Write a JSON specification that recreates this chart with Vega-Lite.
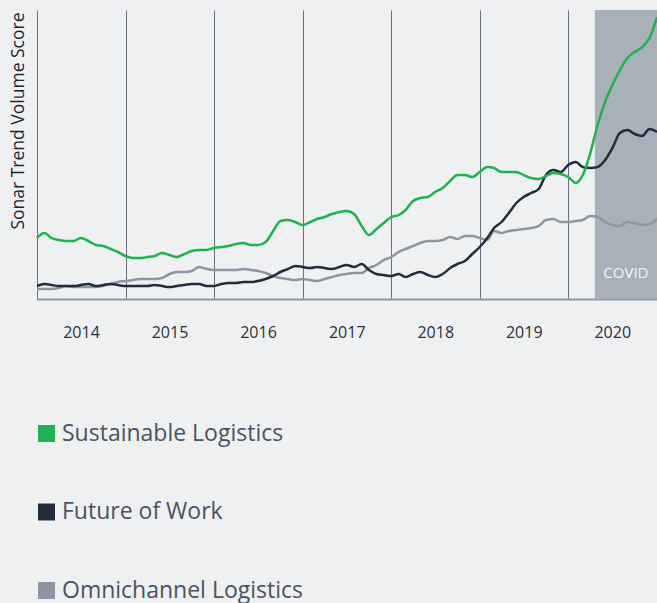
{
  "$schema": "https://vega.github.io/schema/vega-lite/v6.json",
  "autosize": {"type": "none"},
  "padding": {"left": 37, "top": 10, "right": 0, "bottom": 304},
  "width": 620,
  "height": 289,
  "background": "#eff0f2",
  "config": {"view": {"stroke": null}, "font": "Open Sans"},
  "datasets": {
    "trend": [
{"month":"2014-01","series":"Omnichannel Logistics","score":10},{"month":"2014-02","series":"Omnichannel Logistics","score":10},{"month":"2014-03","series":"Omnichannel Logistics","score":10},{"month":"2014-04","series":"Omnichannel Logistics","score":11},{"month":"2014-05","series":"Omnichannel Logistics","score":13},{"month":"2014-06","series":"Omnichannel Logistics","score":12},{"month":"2014-07","series":"Omnichannel Logistics","score":12},{"month":"2014-08","series":"Omnichannel Logistics","score":12},{"month":"2014-09","series":"Omnichannel Logistics","score":12},{"month":"2014-10","series":"Omnichannel Logistics","score":13},{"month":"2014-11","series":"Omnichannel Logistics","score":15},{"month":"2014-12","series":"Omnichannel Logistics","score":17},
{"month":"2015-01","series":"Omnichannel Logistics","score":18},{"month":"2015-02","series":"Omnichannel Logistics","score":19},{"month":"2015-03","series":"Omnichannel Logistics","score":20},{"month":"2015-04","series":"Omnichannel Logistics","score":20},{"month":"2015-05","series":"Omnichannel Logistics","score":20},{"month":"2015-06","series":"Omnichannel Logistics","score":21},{"month":"2015-07","series":"Omnichannel Logistics","score":25},{"month":"2015-08","series":"Omnichannel Logistics","score":27},{"month":"2015-09","series":"Omnichannel Logistics","score":27},{"month":"2015-10","series":"Omnichannel Logistics","score":28},{"month":"2015-11","series":"Omnichannel Logistics","score":32},{"month":"2015-12","series":"Omnichannel Logistics","score":30},
{"month":"2016-01","series":"Omnichannel Logistics","score":29},{"month":"2016-02","series":"Omnichannel Logistics","score":29},{"month":"2016-03","series":"Omnichannel Logistics","score":29},{"month":"2016-04","series":"Omnichannel Logistics","score":29},{"month":"2016-05","series":"Omnichannel Logistics","score":30},{"month":"2016-06","series":"Omnichannel Logistics","score":29},{"month":"2016-07","series":"Omnichannel Logistics","score":28},{"month":"2016-08","series":"Omnichannel Logistics","score":26},{"month":"2016-09","series":"Omnichannel Logistics","score":23},{"month":"2016-10","series":"Omnichannel Logistics","score":21},{"month":"2016-11","series":"Omnichannel Logistics","score":20},{"month":"2016-12","series":"Omnichannel Logistics","score":19},
{"month":"2017-01","series":"Omnichannel Logistics","score":20},{"month":"2017-02","series":"Omnichannel Logistics","score":19},{"month":"2017-03","series":"Omnichannel Logistics","score":18},{"month":"2017-04","series":"Omnichannel Logistics","score":20},{"month":"2017-05","series":"Omnichannel Logistics","score":22},{"month":"2017-06","series":"Omnichannel Logistics","score":24},{"month":"2017-07","series":"Omnichannel Logistics","score":25},{"month":"2017-08","series":"Omnichannel Logistics","score":26},{"month":"2017-09","series":"Omnichannel Logistics","score":26},{"month":"2017-10","series":"Omnichannel Logistics","score":31},{"month":"2017-11","series":"Omnichannel Logistics","score":34},{"month":"2017-12","series":"Omnichannel Logistics","score":39},
{"month":"2018-01","series":"Omnichannel Logistics","score":42},{"month":"2018-02","series":"Omnichannel Logistics","score":47},{"month":"2018-03","series":"Omnichannel Logistics","score":50},{"month":"2018-04","series":"Omnichannel Logistics","score":53},{"month":"2018-05","series":"Omnichannel Logistics","score":56},{"month":"2018-06","series":"Omnichannel Logistics","score":58},{"month":"2018-07","series":"Omnichannel Logistics","score":58},{"month":"2018-08","series":"Omnichannel Logistics","score":59},{"month":"2018-09","series":"Omnichannel Logistics","score":62},{"month":"2018-10","series":"Omnichannel Logistics","score":60},{"month":"2018-11","series":"Omnichannel Logistics","score":63},{"month":"2018-12","series":"Omnichannel Logistics","score":63},
{"month":"2019-01","series":"Omnichannel Logistics","score":61},{"month":"2019-02","series":"Omnichannel Logistics","score":59},{"month":"2019-03","series":"Omnichannel Logistics","score":68},{"month":"2019-04","series":"Omnichannel Logistics","score":66},{"month":"2019-05","series":"Omnichannel Logistics","score":68},{"month":"2019-06","series":"Omnichannel Logistics","score":69},{"month":"2019-07","series":"Omnichannel Logistics","score":70},{"month":"2019-08","series":"Omnichannel Logistics","score":71},{"month":"2019-09","series":"Omnichannel Logistics","score":73},{"month":"2019-10","series":"Omnichannel Logistics","score":79},{"month":"2019-11","series":"Omnichannel Logistics","score":80},{"month":"2019-12","series":"Omnichannel Logistics","score":77},
{"month":"2020-01","series":"Omnichannel Logistics","score":77},{"month":"2020-02","series":"Omnichannel Logistics","score":78},{"month":"2020-03","series":"Omnichannel Logistics","score":79},{"month":"2020-04","series":"Omnichannel Logistics","score":83},{"month":"2020-05","series":"Omnichannel Logistics","score":82},{"month":"2020-06","series":"Omnichannel Logistics","score":77},{"month":"2020-07","series":"Omnichannel Logistics","score":74},{"month":"2020-08","series":"Omnichannel Logistics","score":73},{"month":"2020-09","series":"Omnichannel Logistics","score":77},{"month":"2020-10","series":"Omnichannel Logistics","score":76},{"month":"2020-11","series":"Omnichannel Logistics","score":74},{"month":"2020-12","series":"Omnichannel Logistics","score":75},{"month":"2021-01","series":"Omnichannel Logistics","score":80},
{"month":"2014-01","series":"Future of Work","score":13},{"month":"2014-02","series":"Future of Work","score":15},{"month":"2014-03","series":"Future of Work","score":14},{"month":"2014-04","series":"Future of Work","score":13},{"month":"2014-05","series":"Future of Work","score":13},{"month":"2014-06","series":"Future of Work","score":13},{"month":"2014-07","series":"Future of Work","score":14},{"month":"2014-08","series":"Future of Work","score":15},{"month":"2014-09","series":"Future of Work","score":13},{"month":"2014-10","series":"Future of Work","score":14},{"month":"2014-11","series":"Future of Work","score":15},{"month":"2014-12","series":"Future of Work","score":14},
{"month":"2015-01","series":"Future of Work","score":13},{"month":"2015-02","series":"Future of Work","score":13},{"month":"2015-03","series":"Future of Work","score":13},{"month":"2015-04","series":"Future of Work","score":13},{"month":"2015-05","series":"Future of Work","score":14},{"month":"2015-06","series":"Future of Work","score":13},{"month":"2015-07","series":"Future of Work","score":12},{"month":"2015-08","series":"Future of Work","score":13},{"month":"2015-09","series":"Future of Work","score":14},{"month":"2015-10","series":"Future of Work","score":15},{"month":"2015-11","series":"Future of Work","score":15},{"month":"2015-12","series":"Future of Work","score":13},
{"month":"2016-01","series":"Future of Work","score":13},{"month":"2016-02","series":"Future of Work","score":15},{"month":"2016-03","series":"Future of Work","score":16},{"month":"2016-04","series":"Future of Work","score":16},{"month":"2016-05","series":"Future of Work","score":17},{"month":"2016-06","series":"Future of Work","score":17},{"month":"2016-07","series":"Future of Work","score":18},{"month":"2016-08","series":"Future of Work","score":20},{"month":"2016-09","series":"Future of Work","score":23},{"month":"2016-10","series":"Future of Work","score":27},{"month":"2016-11","series":"Future of Work","score":30},{"month":"2016-12","series":"Future of Work","score":33},
{"month":"2017-01","series":"Future of Work","score":32},{"month":"2017-02","series":"Future of Work","score":31},{"month":"2017-03","series":"Future of Work","score":32},{"month":"2017-04","series":"Future of Work","score":31},{"month":"2017-05","series":"Future of Work","score":30},{"month":"2017-06","series":"Future of Work","score":32},{"month":"2017-07","series":"Future of Work","score":34},{"month":"2017-08","series":"Future of Work","score":32},{"month":"2017-09","series":"Future of Work","score":35},{"month":"2017-10","series":"Future of Work","score":29},{"month":"2017-11","series":"Future of Work","score":25},{"month":"2017-12","series":"Future of Work","score":24},
{"month":"2018-01","series":"Future of Work","score":23},{"month":"2018-02","series":"Future of Work","score":25},{"month":"2018-03","series":"Future of Work","score":22},{"month":"2018-04","series":"Future of Work","score":25},{"month":"2018-05","series":"Future of Work","score":27},{"month":"2018-06","series":"Future of Work","score":24},{"month":"2018-07","series":"Future of Work","score":22},{"month":"2018-08","series":"Future of Work","score":25},{"month":"2018-09","series":"Future of Work","score":31},{"month":"2018-10","series":"Future of Work","score":35},{"month":"2018-11","series":"Future of Work","score":38},{"month":"2018-12","series":"Future of Work","score":45},
{"month":"2019-01","series":"Future of Work","score":52},{"month":"2019-02","series":"Future of Work","score":61},{"month":"2019-03","series":"Future of Work","score":71},{"month":"2019-04","series":"Future of Work","score":77},{"month":"2019-05","series":"Future of Work","score":86},{"month":"2019-06","series":"Future of Work","score":96},{"month":"2019-07","series":"Future of Work","score":102},{"month":"2019-08","series":"Future of Work","score":106},{"month":"2019-09","series":"Future of Work","score":110},{"month":"2019-10","series":"Future of Work","score":124},{"month":"2019-11","series":"Future of Work","score":129},{"month":"2019-12","series":"Future of Work","score":127},
{"month":"2020-01","series":"Future of Work","score":134},{"month":"2020-02","series":"Future of Work","score":137},{"month":"2020-03","series":"Future of Work","score":132},{"month":"2020-04","series":"Future of Work","score":131},{"month":"2020-05","series":"Future of Work","score":132},{"month":"2020-06","series":"Future of Work","score":139},{"month":"2020-07","series":"Future of Work","score":151},{"month":"2020-08","series":"Future of Work","score":166},{"month":"2020-09","series":"Future of Work","score":169},{"month":"2020-10","series":"Future of Work","score":165},{"month":"2020-11","series":"Future of Work","score":163},{"month":"2020-12","series":"Future of Work","score":170},{"month":"2021-01","series":"Future of Work","score":167},
{"month":"2014-01","series":"Sustainable Logistics","score":61},{"month":"2014-02","series":"Sustainable Logistics","score":66},{"month":"2014-03","series":"Sustainable Logistics","score":61},{"month":"2014-04","series":"Sustainable Logistics","score":59},{"month":"2014-05","series":"Sustainable Logistics","score":58},{"month":"2014-06","series":"Sustainable Logistics","score":58},{"month":"2014-07","series":"Sustainable Logistics","score":61},{"month":"2014-08","series":"Sustainable Logistics","score":58},{"month":"2014-09","series":"Sustainable Logistics","score":54},{"month":"2014-10","series":"Sustainable Logistics","score":53},{"month":"2014-11","series":"Sustainable Logistics","score":50},{"month":"2014-12","series":"Sustainable Logistics","score":47},
{"month":"2015-01","series":"Sustainable Logistics","score":43},{"month":"2015-02","series":"Sustainable Logistics","score":41},{"month":"2015-03","series":"Sustainable Logistics","score":41},{"month":"2015-04","series":"Sustainable Logistics","score":42},{"month":"2015-05","series":"Sustainable Logistics","score":43},{"month":"2015-06","series":"Sustainable Logistics","score":46},{"month":"2015-07","series":"Sustainable Logistics","score":44},{"month":"2015-08","series":"Sustainable Logistics","score":42},{"month":"2015-09","series":"Sustainable Logistics","score":45},{"month":"2015-10","series":"Sustainable Logistics","score":48},{"month":"2015-11","series":"Sustainable Logistics","score":49},{"month":"2015-12","series":"Sustainable Logistics","score":49},
{"month":"2016-01","series":"Sustainable Logistics","score":51},{"month":"2016-02","series":"Sustainable Logistics","score":52},{"month":"2016-03","series":"Sustainable Logistics","score":53},{"month":"2016-04","series":"Sustainable Logistics","score":55},{"month":"2016-05","series":"Sustainable Logistics","score":56},{"month":"2016-06","series":"Sustainable Logistics","score":54},{"month":"2016-07","series":"Sustainable Logistics","score":54},{"month":"2016-08","series":"Sustainable Logistics","score":57},{"month":"2016-09","series":"Sustainable Logistics","score":68},{"month":"2016-10","series":"Sustainable Logistics","score":78},{"month":"2016-11","series":"Sustainable Logistics","score":79},{"month":"2016-12","series":"Sustainable Logistics","score":77},
{"month":"2017-01","series":"Sustainable Logistics","score":74},{"month":"2017-02","series":"Sustainable Logistics","score":77},{"month":"2017-03","series":"Sustainable Logistics","score":80},{"month":"2017-04","series":"Sustainable Logistics","score":82},{"month":"2017-05","series":"Sustainable Logistics","score":85},{"month":"2017-06","series":"Sustainable Logistics","score":87},{"month":"2017-07","series":"Sustainable Logistics","score":88},{"month":"2017-08","series":"Sustainable Logistics","score":85},{"month":"2017-09","series":"Sustainable Logistics","score":73},{"month":"2017-10","series":"Sustainable Logistics","score":64},{"month":"2017-11","series":"Sustainable Logistics","score":70},{"month":"2017-12","series":"Sustainable Logistics","score":76},
{"month":"2018-01","series":"Sustainable Logistics","score":82},{"month":"2018-02","series":"Sustainable Logistics","score":84},{"month":"2018-03","series":"Sustainable Logistics","score":89},{"month":"2018-04","series":"Sustainable Logistics","score":98},{"month":"2018-05","series":"Sustainable Logistics","score":101},{"month":"2018-06","series":"Sustainable Logistics","score":102},{"month":"2018-07","series":"Sustainable Logistics","score":107},{"month":"2018-08","series":"Sustainable Logistics","score":111},{"month":"2018-09","series":"Sustainable Logistics","score":118},{"month":"2018-10","series":"Sustainable Logistics","score":124},{"month":"2018-11","series":"Sustainable Logistics","score":124},{"month":"2018-12","series":"Sustainable Logistics","score":122},
{"month":"2019-01","series":"Sustainable Logistics","score":127},{"month":"2019-02","series":"Sustainable Logistics","score":132},{"month":"2019-03","series":"Sustainable Logistics","score":131},{"month":"2019-04","series":"Sustainable Logistics","score":127},{"month":"2019-05","series":"Sustainable Logistics","score":127},{"month":"2019-06","series":"Sustainable Logistics","score":127},{"month":"2019-07","series":"Sustainable Logistics","score":124},{"month":"2019-08","series":"Sustainable Logistics","score":121},{"month":"2019-09","series":"Sustainable Logistics","score":120},{"month":"2019-10","series":"Sustainable Logistics","score":123},{"month":"2019-11","series":"Sustainable Logistics","score":126},{"month":"2019-12","series":"Sustainable Logistics","score":125},
{"month":"2020-01","series":"Sustainable Logistics","score":122},{"month":"2020-02","series":"Sustainable Logistics","score":116},{"month":"2020-03","series":"Sustainable Logistics","score":124},{"month":"2020-04","series":"Sustainable Logistics","score":146},{"month":"2020-05","series":"Sustainable Logistics","score":174},{"month":"2020-06","series":"Sustainable Logistics","score":197},{"month":"2020-07","series":"Sustainable Logistics","score":214},{"month":"2020-08","series":"Sustainable Logistics","score":229},{"month":"2020-09","series":"Sustainable Logistics","score":241},{"month":"2020-10","series":"Sustainable Logistics","score":247},{"month":"2020-11","series":"Sustainable Logistics","score":252},{"month":"2020-12","series":"Sustainable Logistics","score":261},{"month":"2021-01","series":"Sustainable Logistics","score":282}
    ],
    "period": [{"label": "COVID", "start": "2020-04-20", "end": "2021-01-01"}]
  },
  "layer": [
    {
      "data": {"name": "period"},
      "mark": {"type": "rect", "color": "#a8b1b9"},
      "encoding": {
        "x": {"field": "start", "type": "temporal"},
        "x2": {"field": "end"}
      }
    },
    {
      "data": {"name": "trend"},
      "mark": {"type": "line", "interpolate": "monotone", "strokeWidth": 2.5},
      "encoding": {
        "x": {
          "field": "month", "type": "temporal",
          "scale": {"type": "utc", "domain": [{"year": 2014, "month": 1, "date": 1, "utc": true}, {"year": 2021, "month": 1, "date": 1, "utc": true}]},
          "axis": {
            "title": null,
            "values": [
              {"year": 2014, "month": 1, "date": 1, "utc": true},
              {"year": 2015, "month": 1, "date": 1, "utc": true},
              {"year": 2016, "month": 1, "date": 1, "utc": true},
              {"year": 2017, "month": 1, "date": 1, "utc": true},
              {"year": 2018, "month": 1, "date": 1, "utc": true},
              {"year": 2019, "month": 1, "date": 1, "utc": true},
              {"year": 2020, "month": 1, "date": 1, "utc": true}
            ],
            "format": "%Y",
            "grid": true, "gridColor": "#687180", "gridWidth": 1,
            "ticks": false,
            "domainColor": "#8d96a2", "domainWidth": 2,
            "labelOffset": 44, "labelPadding": 25,
            "labelFontSize": 16, "labelColor": "#2b313b", "labelFontWeight": 500,
            "labelAlign": "center"
          }
        },
        "y": {
          "field": "score", "type": "quantitative",
          "scale": {"domain": [0, 289], "nice": false, "zero": true},
          "axis": {
            "title": "Sonar Trend Volume Score",
            "labels": false, "ticks": false, "domain": false, "grid": false,
            "titleX": -19, "titleY": 2, "titleAngle": -90,
            "titleAlign": "right", "titleBaseline": "middle",
            "titleFontSize": 17.5, "titleFontWeight": "normal", "titleColor": "#1f2530"
          }
        },
        "color": {
          "field": "series", "type": "nominal",
          "scale": {
            "domain": ["Sustainable Logistics", "Future of Work", "Omnichannel Logistics"],
            "range": ["#1fb24f", "#222d3b", "#8d96a2"]
          },
          "legend": {
            "title": null,
            "orient": "none", "legendX": -2, "legendY": 412,
            "direction": "vertical",
            "symbolType": "square", "symbolSize": 289, "symbolStrokeWidth": 0,
            "labelFontSize": 23, "labelColor": "#4a5361", "labelOffset": 4,
            "labelLimit": 0,
            "rowPadding": 54.5,
            "encode": {"symbols": {"update": {"fill": {"scale": "color", "field": "value"}, "fillOpacity": {"value": 1}, "strokeWidth": {"value": 0}}}}
          }
        }
      }
    },
    {
      "data": {"name": "period"},
      "mark": {"type": "text", "align": "center", "baseline": "middle", "dx": 31, "fontSize": 15, "color": "#f3f4f6"},
      "encoding": {
        "x": {"field": "start", "type": "temporal"},
        "y": {"datum": 26, "type": "quantitative"},
        "text": {"field": "label"}
      }
    }
  ]
}
